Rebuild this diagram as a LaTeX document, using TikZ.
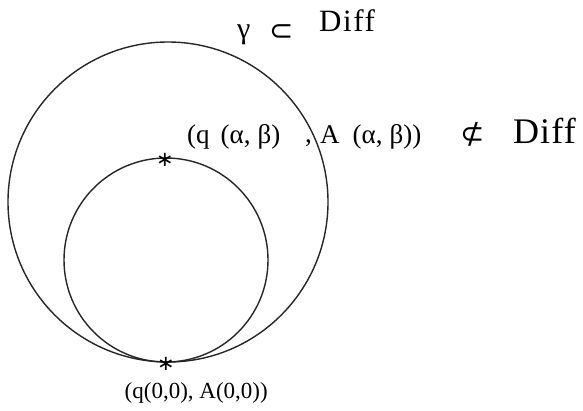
\documentclass[tikz,border=0pt]{standalone}
\usepackage{fontspec}
\setmainfont{Liberation Serif}
\newfontfamily\symfont{DejaVu Sans}
\usetikzlibrary{positioning}

\begin{document}
\begin{tikzpicture}[
    x=1pt, y=-1pt,
    circ/.style={line width=1.4pt, draw=black!85},
    astmark/.style={inner sep=0pt, font=\symfont\fontsize{21}{21}\selectfont},
    symb/.style={inner sep=0pt, font=\symfont\fontsize{29}{30}\selectfont},
    lbl/.style={inner sep=0pt, anchor=base west, font=\fontsize{27}{29}\selectfont},
    bigtxt/.style={inner sep=0pt, anchor=base west,
                   font=\fontsize{31}{34}\selectfont\addfontfeature{LetterSpace=5}},
]
\useasboundingbox (0,0) rectangle (583,410);

% --- the two circles, tangent at the bottom ---
\coordinate (bigc) at (168,202);
\coordinate (smallc) at (166,260);
\draw[circ] (bigc) circle[radius=160pt];
\draw[circ] (smallc) circle[radius=102pt];

% --- marked points ---
\node[astmark] (astTop) at (165,160) {∗};
\node[astmark] (astBot) at (166,364) {∗};

% --- top label ---
\node[lbl, font=\fontsize{30}{32}\selectfont] (gam) at (237,38) {γ};
\node[symb] (subs) at (282,33) {⊂};
\node[bigtxt] (diffTop) at (319,31) {Diff};

% --- label at the upper point ---
\node[lbl] (lblQ) at (187,143) {(q\hspace{11pt}(α,\hspace{7pt}β)};
\node[lbl] (comma) at (305,142) {,};
\node[lbl] (lblA) at (320,143) {A\hspace{13pt}(α,\hspace{7pt}β))};
\node[symb] (nsubs) at (473,134) {⊄};
\node[bigtxt, font=\fontsize{36}{38}\selectfont\addfontfeature{LetterSpace=3}] (diffR) at (513,143) {Diff};

% --- label at the tangent point ---
\node[lbl, font=\fontsize{23}{26}\selectfont, anchor=base east] (lblBot) at (268,398) {(q(0,0), A(0,0))};
\end{tikzpicture}
\end{document}
